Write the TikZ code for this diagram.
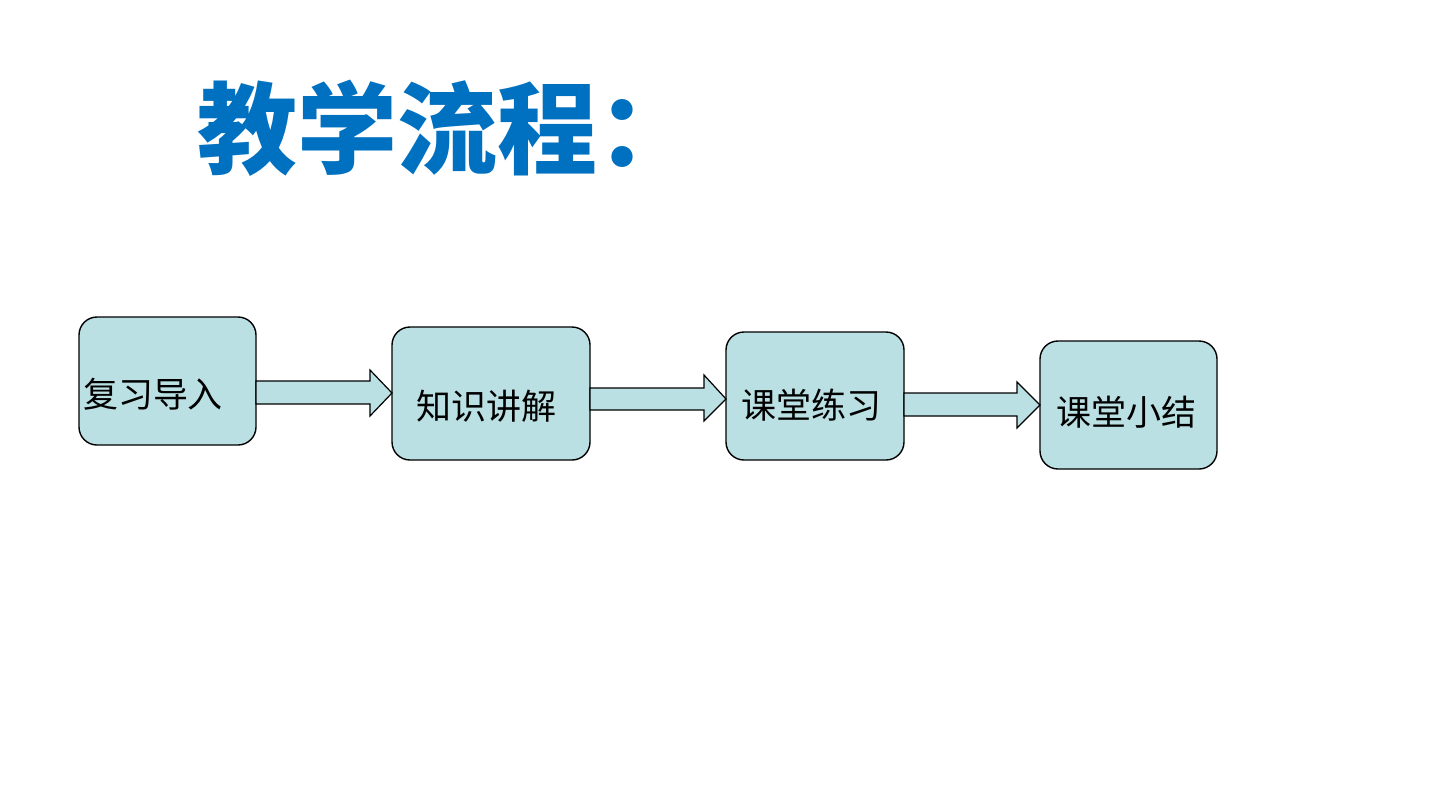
\documentclass[tikz,border=0pt]{standalone}
\usepackage{fontspec}
\newfontfamily\cjk{Noto Sans CJK SC}
\definecolor{boxfill}{HTML}{BAE0E3}
\definecolor{titleblue}{HTML}{0070C0}
\begin{document}
\begin{tikzpicture}[x=0.5pt,y=-0.5pt,
  stage/.style={draw=black,line width=0.7pt,fill=boxfill,rounded corners=9pt,inner sep=0pt,outer sep=0pt},
  stagetext/.style={font=\cjk\fontsize{17.5}{20}\selectfont,inner sep=0pt},
  blockarrow/.style={draw=black,line width=0.6pt,fill=boxfill,line join=miter}]
\useasboundingbox[fill=white] (0,0) rectangle (1440,810);
\node[font=\cjk\bfseries\fontsize{50}{58}\selectfont,text=titleblue,anchor=west,inner sep=0pt] (title) at (197,128) {教学流程：};

\node[stage,minimum width=88.5pt,minimum height=64pt] (b1) at (167.5,381) {};
\node[stage,minimum width=99pt,minimum height=66.5pt] (b2) at (491,393.5) {};
\node[stage,minimum width=89pt,minimum height=64pt] (b3) at (815,396) {};
\node[stage,minimum width=88.5pt,minimum height=64pt] (b4) at (1128.5,405) {};

\node[stagetext] (t1) at (153,394) {复习导入};
\node[stagetext] (t2) at (486,406) {知识讲解};
\node[stagetext] (t3) at (811,405) {课堂练习};
\node[stagetext] (t4) at (1126,412) {课堂小结};

\draw[blockarrow] (b1.east |- 0,381) -- (370,381) -- (370,370) -- (b2.west |- 0,393)
  -- (370,416) -- (370,404) -- (b1.east |- 0,404) -- cycle;
\draw[blockarrow] (b2.east |- 0,388) -- (704,388) -- (704,375) -- (b3.west |- 0,399)
  -- (704,421) -- (704,410) -- (b2.east |- 0,410) -- cycle;
\draw[blockarrow] (b3.east |- 0,393) -- (1017,393) -- (1017,382) -- (b4.west |- 0,405)
  -- (1017,428) -- (1017,416) -- (b3.east |- 0,416) -- cycle;
\end{tikzpicture}
\end{document}
